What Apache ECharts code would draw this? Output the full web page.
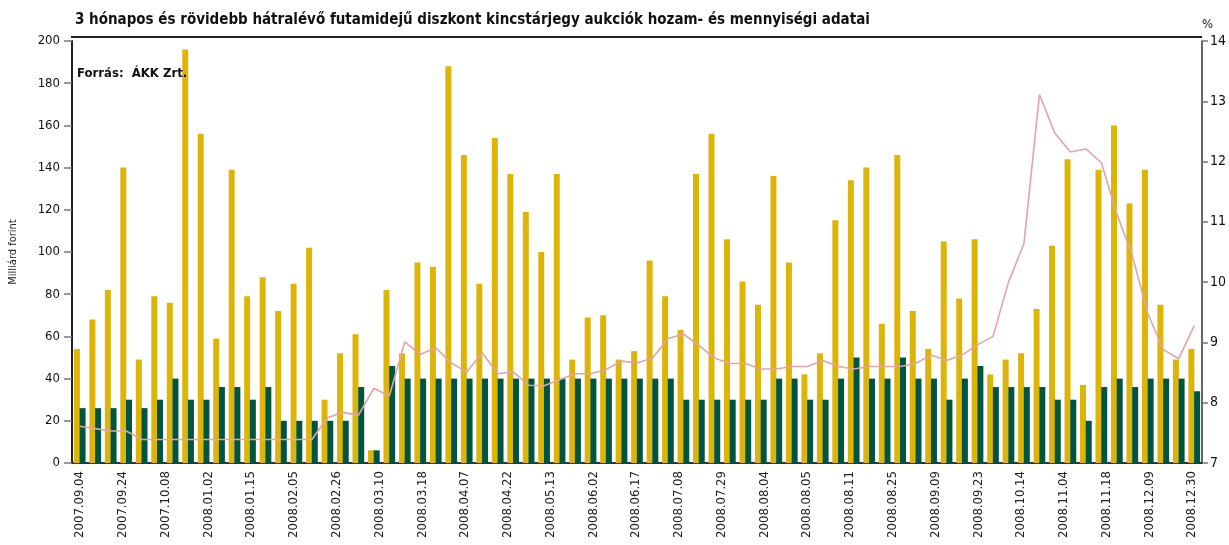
<!DOCTYPE html>
<html>
<head>
<meta charset="utf-8">
<script src="https://cdn.jsdelivr.net/npm/echarts@6/dist/echarts.min.js"></script>
<style>
  html, body { margin: 0; padding: 0; background: #fff; }
  #chart { width: 1229px; height: 545px; }
</style>
</head>
<body>
<div id="chart"></div>
<script>
// aukciók sorszáma (73 db), a tengelyen csak minden ~3. dátum látszik
const auctions = [];
for (let i = 1; i <= 73; i++) auctions.push(String(i));

const dateLabels = [
  '2007.09.04','2007.09.24','2007.10.08','2008.01.02','2008.01.15','2008.02.05','2008.02.26',
  '2008.03.10','2008.03.18','2008.04.07','2008.04.22','2008.05.13','2008.06.02','2008.06.17',
  '2008.07.08','2008.07.29','2008.08.04','2008.08.05','2008.08.11','2008.08.25','2008.09.09',
  '2008.09.23','2008.10.14','2008.11.04','2008.11.18','2008.12.09','2008.12.30'
];

// benyújtott ajánlatok (Mrd Ft)
const offered = [
  54, 68, 82, 140, 49, 79, 76, 196, 156, 59, 139, 79, 88, 72, 85, 102, 30, 52, 61, 6,
  82, 52, 95, 93, 188, 146, 85, 154, 137, 119, 100, 137, 49, 69, 70, 49, 53, 96, 79, 63,
  137, 156, 106, 86, 75, 136, 95, 42, 52, 115, 134, 140, 66, 146, 72, 54, 105, 78, 106, 42,
  49, 52, 73, 103, 144, 37, 139, 160, 123, 139, 75, 49, 54
];

// elfogadott mennyiség (Mrd Ft)
const accepted = [
  26, 26, 26, 30, 26, 30, 40, 30, 30, 36, 36, 30, 36, 20, 20, 20, 20, 20, 36, 6,
  46, 40, 40, 40, 40, 40, 40, 40, 40, 40, 40, 40, 40, 40, 40, 40, 40, 40, 40, 30,
  30, 30, 30, 30, 30, 40, 40, 30, 30, 40, 50, 40, 40, 50, 40, 40, 30, 40, 46, 36,
  36, 36, 36, 30, 30, 20, 36, 40, 36, 40, 40, 40, 34
];

// átlaghozam (%)
const avgYield = [
  7.61, 7.57, 7.53, 7.53, 7.39, 7.39, 7.39, 7.39, 7.39, 7.39, 7.39, 7.39, 7.39, 7.39, 7.39, 7.39, 7.75, 7.84, 7.79, 8.24,
  8.11, 9.01, 8.80, 8.91, 8.66, 8.51, 8.83, 8.48, 8.51, 8.29, 8.28, 8.38, 8.48, 8.48, 8.55, 8.69, 8.66, 8.74, 9.06, 9.14,
  8.95, 8.74, 8.65, 8.65, 8.56, 8.56, 8.60, 8.60, 8.70, 8.60, 8.56, 8.60, 8.60, 8.60, 8.65, 8.79, 8.70, 8.79, 8.96, 9.10,
  10.00, 10.64, 13.11, 12.47, 12.16, 12.21, 11.98, 11.13, 10.44, 9.48, 8.88, 8.73, 9.28
];

(()=>{
  const FONT = '"Liberation Sans Narrow", "DejaVu Sans Condensed", sans-serif';
  let myChart = null;

  const F = {
    getOption(){
      const option = {
        backgroundColor: '#fff',
        animation: false,
        textStyle: { fontFamily: FONT },
        title: {
          text: '3 hónapos és rövidebb hátralévő futamidejű diszkont kincstárjegy aukciók hozam- és mennyiségi adatai',
          left: 70,
          top: 8,
          textStyle: { fontFamily: FONT, fontSize: 15, fontWeight: 'bold', color: '#111' }
        },
        graphic: [
          {
            type: 'text', left: 77, top: 67, z: 100,
            style: { text: 'Forrás:  ÁKK Zrt.', font: 'bold 13px ' + FONT, fill: '#111' }
          },
          {
            // felső keretvonal
            type: 'line', shape: { x1: 71, y1: 37, x2: 1202, y2: 37 },
            style: { stroke: '#222', lineWidth: 2 }
          }
        ],
        grid: [
          { left: 72, right: 27, top: 41, bottom: 82 },
          { left: 80, right: 37, top: 41, bottom: 82, show: false }
        ],
        xAxis: [
          {
            type: 'category',
            gridIndex: 0,
            data: auctions,
            axisLine: { lineStyle: { color: '#333', width: 2 } },
            axisTick: { show: false },
            axisLabel: { show: false }
          },
          {
            type: 'category',
            gridIndex: 1,
            data: dateLabels,
            boundaryGap: false,
            axisLine: { show: false },
            axisTick: { show: false },
            axisLabel: {
              interval: 0, rotate: 90, margin: 8,
              fontFamily: FONT, fontSize: 13, color: '#222'
            }
          }
        ],
        yAxis: [
          {
            type: 'value',
            gridIndex: 0,
            min: 0, max: 200, interval: 20,
            name: 'Milliárd forint',
            nameLocation: 'middle',
            nameGap: 53,
            nameTextStyle: { fontFamily: FONT, fontSize: 11, color: '#222' },
            axisLine: { show: true, lineStyle: { color: '#222', width: 2 } },
            axisTick: { show: true, length: 8, lineStyle: { color: '#777', width: 1.5 } },
            axisLabel: { fontFamily: FONT, fontSize: 13, color: '#111', margin: 12 },
            splitLine: { show: false }
          },
          {
            type: 'value',
            gridIndex: 0,
            position: 'right',
            min: 7, max: 14, interval: 1,
            name: '%',
            nameGap: 10,
            nameTextStyle: { fontFamily: FONT, fontSize: 13, color: '#222', align: 'left' },
            axisLine: { show: true, lineStyle: { color: '#333', width: 1.5 } },
            axisTick: { show: true, length: 6, lineStyle: { color: '#777', width: 1.5 } },
            axisLabel: { fontFamily: FONT, fontSize: 14, color: '#111', margin: 8 },
            splitLine: { show: false }
          },
          {
            type: 'value', gridIndex: 1, show: false
          }
        ],
        series: [
          {
            name: 'Benyújtott',
            type: 'bar',
            data: offered,
            barWidth: 6,
            barGap: '-5%',
            itemStyle: { color: '#DDB408' }
          },
          {
            name: 'Elfogadott',
            type: 'bar',
            data: accepted,
            barWidth: 6,
            itemStyle: { color: '#005541' }
          },
          {
            name: 'Átlaghozam',
            type: 'line',
            yAxisIndex: 1,
            data: avgYield,
            symbol: 'none',
            z: 5,
            lineStyle: { color: '#E2A4A6', width: 1.6 }
          }
        ]
      };
      return option;
    },

    init(){
      myChart = echarts.init(document.getElementById('chart'));
      myChart.setOption(F.getOption());
    }
  };

  F.init();
})();
</script>
</body>
</html>
